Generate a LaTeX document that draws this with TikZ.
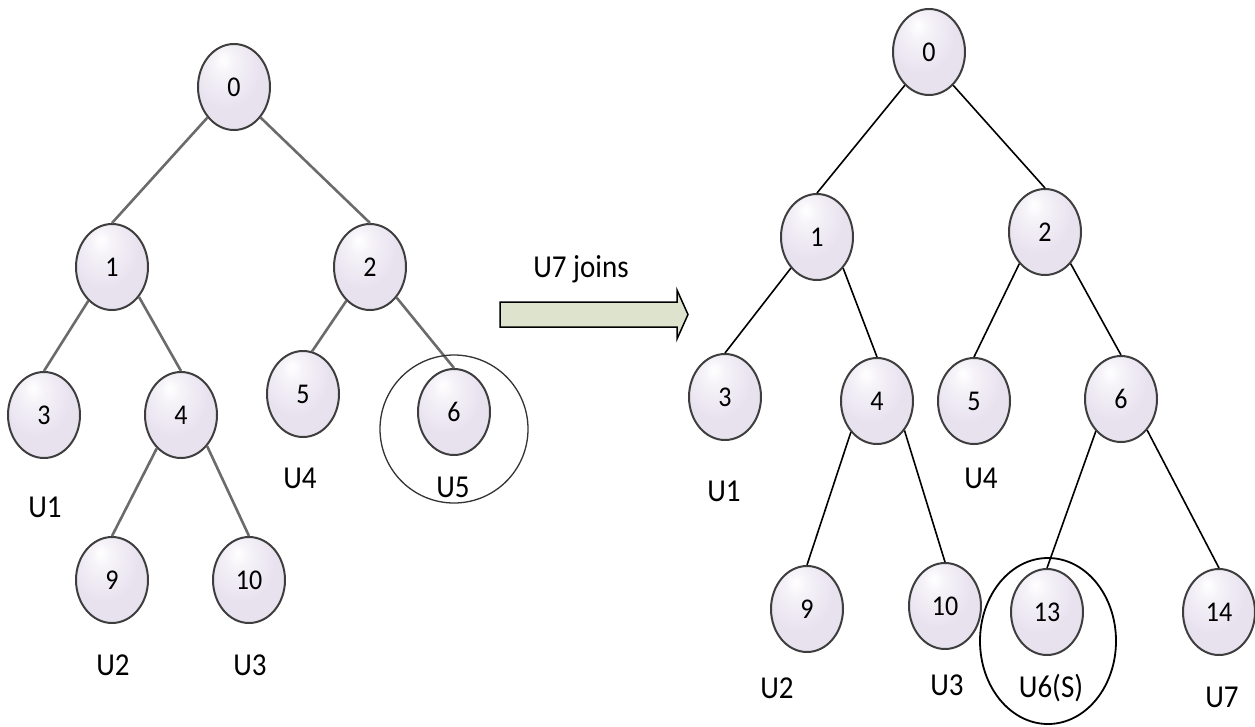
\documentclass[tikz,border=0pt]{standalone}
\usepackage{fontspec}
\usepackage{graphicx}
\setmainfont{Carlito}
\usetikzlibrary{shapes.geometric}

\definecolor{orbmid}{HTML}{E8E2EF}
\definecolor{orbdark}{HTML}{BDB6C4}
\definecolor{orbrim}{HTML}{8A8490}
\definecolor{orbline}{HTML}{3E3E3E}
\definecolor{treegrey}{HTML}{6B6B6B}
\definecolor{arrowfill}{HTML}{DEE3CE}

% glossy lavender ball used for every tree node
\pgfdeclareradialshading{orb}{\pgfpoint{-8bp}{16bp}}{%
  color(0bp)=(white);
  color(8bp)=(white!55!orbmid);
  color(24bp)=(orbmid);
  color(44bp)=(orbmid);
  color(56bp)=(orbdark);
  color(64bp)=(orbrim);
  color(80bp)=(orbrim)}

\newcommand{\tallt}[1]{\scalebox{1}[1.1]{#1}}

\begin{document}
\begin{tikzpicture}[x=1pt,y=-1pt,
  ballnode/.style={ellipse, shading=orb, draw=orbline, line width=2pt,
    minimum width=72pt, minimum height=86pt, inner sep=0pt,
    font=\fontsize{26}{28}\selectfont},
  userlabel/.style={anchor=base, inner sep=0pt, font=\fontsize{29}{31}\selectfont},
  greyedge/.style={draw=treegrey, line width=2.6pt},
  blackedge/.style={draw=black, line width=1.6pt},
  greyring/.style={draw=black!80, line width=1.3pt},
  blackring/.style={draw=black, line width=1.8pt}]
\useasboundingbox (0,0) rectangle (1255,726);

% ---------------- tree before the join ----------------
\node[ballnode] (L0)  at (234,87)   {\tallt{0}};
\node[ballnode] (L1)  at (112,267)  {\tallt{1}};
\node[ballnode] (L2)  at (370,267)  {\tallt{2}};
\node[ballnode] (L3)  at (44,415)   {\tallt{3}};
\node[ballnode] (L4)  at (181,415)  {\tallt{4}};
\node[ballnode] (L5)  at (303,394)  {\tallt{5}};
\node[ballnode] (L6)  at (454,412)  {\tallt{6}};
\node[ballnode] (L9)  at (112,580)  {\tallt{9}};
\node[ballnode] (L10) at (249,580)  {\tallt{10}};

\draw[greyedge] (L0.229) -- (L1.north);
\draw[greyedge] (L0.311) -- (L2.north);
\draw[greyedge] (L1.235) -- (L3.north);
\draw[greyedge] (L1.312) -- (L4.north);
\draw[greyedge] (L2.235) -- (L5.78);
\draw[greyedge] (L2.311) -- (L6.north);
\draw[greyedge] (L4.234) -- (L9.north);
\draw[greyedge] (L4.310) -- (L10.north);

\node[userlabel] (lu1) at (45,517)  {\tallt{U1}};
\node[userlabel] (lu4) at (300,488) {\tallt{U4}};
\node[userlabel] (lu5) at (453,497) {\tallt{U5}};
\node[userlabel] (lu2) at (113,675) {\tallt{U2}};
\node[userlabel] (lu3) at (250,675) {\tallt{U3}};

\draw[greyring] (454,429) ellipse [x radius=74, y radius=74];

% ---------------- join arrow ----------------
\draw[fill=arrowfill, draw=black, line width=1.5pt, line join=miter]
  (500,302) -- (677,302) -- (677,290) -- (688,314.5) -- (677,339)
  -- (677,327) -- (500,327) -- cycle;
\node[userlabel] (joins) at (581,277) {\tallt{U7 joins}};

% ---------------- tree after the join ----------------
\node[ballnode] (R0)  at (929,52)   {\tallt{0}};
\node[ballnode] (R1)  at (817,237)  {\tallt{1}};
\node[ballnode] (R2)  at (1045,232) {\tallt{2}};
\node[ballnode] (R3)  at (725,397)  {\tallt{3}};
\node[ballnode] (R4)  at (877,401)  {\tallt{4}};
\node[ballnode] (R5)  at (974,401)  {\tallt{5}};
\node[ballnode] (R6)  at (1121,399) {\tallt{6}};
\node[ballnode] (R9)  at (807,609)  {\tallt{9}};
\node[ballnode] (R10) at (945,606)  {\tallt{10}};
\node[ballnode] (R13) at (1047,612) {\tallt{13}};
\node[ballnode] (R14) at (1219,612) {\tallt{14}};

\draw[blackedge] (R0.234) -- (R1.north);
\draw[blackedge] (R0.306) -- (R2.north);
\draw[blackedge] (R1.230) -- (R3.north);
\draw[blackedge] (R1.310) -- (R4.north);
\draw[blackedge] (R2.231) -- (R5.north);
\draw[blackedge] (R2.309) -- (R6.north);
\draw[blackedge] (R4.230) -- (R9.north);
\draw[blackedge] (R4.313) -- (R10.north);
\draw[blackedge] (R6.232) -- (R13.north);
\draw[blackedge] (R6.310) -- (R14.north);

\node[userlabel] (ru1) at (724,501)  {\tallt{U1}};
\node[userlabel] (ru4) at (981,488)  {\tallt{U4}};
\node[userlabel] (ru2) at (777,698)  {\tallt{U2}};
\node[userlabel] (ru3) at (947,695)  {\tallt{U3}};
\node[userlabel] (ru6) at (1051,697) {\tallt{U6(S)}};
\node[userlabel] (ru7) at (1222,707) {\tallt{U7}};

\draw[blackring] (1048,641) ellipse [x radius=68, y radius=83];
\end{tikzpicture}
\end{document}
